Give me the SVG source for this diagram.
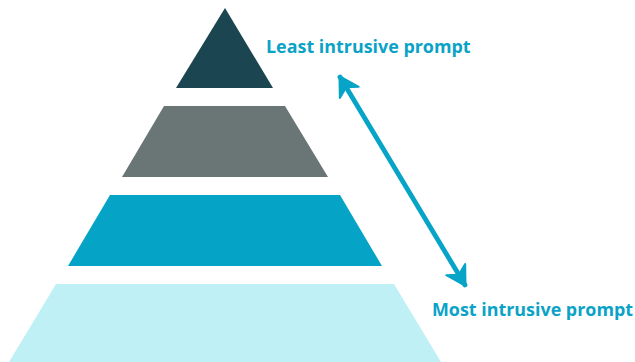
<svg xmlns="http://www.w3.org/2000/svg" width="635" height="362" viewBox="0 0 635 362">
  <style>
    .label { font-family: "Open Sans", "Liberation Sans", sans-serif; font-weight: 700; font-size: 17.9px; fill: #0aa3c7; }
    .conn { stroke: #06a4c6; stroke-width: 4.8; fill: none; stroke-linecap: round; }
  </style>
  <defs>
    <marker id="head" markerUnits="userSpaceOnUse" viewBox="-20 -12 22 24" refX="0" refY="0" markerWidth="22" markerHeight="24" orient="auto-start-reverse">
      <path d="M1,0 L-18,-11 L-12,0 L-18,11 Z" fill="#06a4c6" stroke="#06a4c6" stroke-width="2" stroke-linejoin="round"/>
    </marker>
  </defs>
  <rect width="635" height="362" fill="#ffffff"/>
  <g id="level-top">
    <polygon points="225,8 273,88 176,88" fill="#1b4550"/>
  </g>
  <g id="level-2">
    <polygon points="164,106 285,106 328,177 122,177" fill="#6a7576"/>
  </g>
  <g id="level-3">
    <polygon points="110,195 340,195 382,266 68,266" fill="#05a3c6"/>
  </g>
  <g id="level-base">
    <polygon points="56,284 394,284 441,362 9,362" fill="#bff0f6"/>
  </g>
  <g id="label-least">
    <text class="label" x="266" y="53">Least intrusive prompt</text>
  </g>
  <g id="label-most">
    <text class="label" x="432" y="316">Most intrusive prompt</text>
  </g>
  <g id="connectors">
    <line class="conn" x1="340" y1="77" x2="465" y2="285" marker-start="url(#head)" marker-end="url(#head)"/>
  </g>
</svg>
